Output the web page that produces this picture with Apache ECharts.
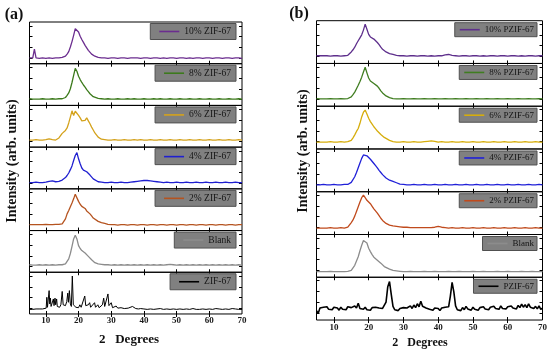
<!DOCTYPE html>
<html><head><meta charset="utf-8">
<script src="https://cdn.jsdelivr.net/npm/echarts@6/dist/echarts.min.js"></script>
<style>html,body{margin:0;padding:0;background:#fff}#c{width:550px;height:351px}</style>
</head><body><div id="c"></div>
<script>
// ---------- DATA ----------
const seriesNamesA = ['10% ZIF-67','8% ZIF-67','6% ZIF-67','4% ZIF-67','2% ZIF-67','Blank','ZIF-67'];
const seriesNamesB = ['10% PZIF-67','8% PZIF-67','6% PZIF-67','4% PZIF-67','2% PZIF-67','Blank','PZIF-67'];
const xTickLabels = [10,20,30,40,50,60,70];
const xTickMarks = [10,20,30,40,50,60];

const twoTheta = [5,6,6.5,7,8,9,10,11,12,13,14,
  15,15.5,16,16.5,17,17.5,18,18.5,19,19.5,20,20.5,21,21.5,22,22.5,23,23.5,24,24.5,25,
  26,27,28,29,30,31,32,33,34,35,36,37,38,39,40,41,42,43,44,45,46,47,48,49,50,
  51,52,53,54,55,56,57,58,59,60,61,62,63,64,65,66,67,68,69,70];

// panel (a)
const a10 = [14,14,35,14,13,14,13,14,13,14,14,
  15,16,18,23,29,40,53,68,84,88,76,66,58,51,44,38,32,28,23,20,18,
  15,14,14,13,14, 14,13,14,14,13, 14,14,14,13,14, 14,13,14,14,13, 14,13,14,14,13, 14,14,13,14,13, 14,14,13,14,14, 13,14,14,13,14, 14,13,14,14,13];
const a8 = [16,15,16,15,15,16,15,15,16,15,16,
  16,17,19,24,30,40,55,72,89,82,70,62,55,49,44,38,33,28,24,21,19,
  17,16,15,16,15, 15,16,15,15,16, 15,16,15,15,16, 15,15,16,15,16, 15,15,16,15,15, 16,15,15,16,15, 15,16,15,15,16, 15,15,16,15,15, 16,15,15,16,15];
const a6 = [17,17,17,18,17,17,18,20,18,17,22,
  33,37,40,46,58,72,87,76,86,87,76,70,63,60,64,70,63,56,48,41,34,
  24,19,18,17,17, 18,17,17,18,17, 17,18,17,18,17, 17,18,17,17,18, 17,17,18,17,17, 18,17,17,18,17, 17,18,17,17,18, 17,17,18,17,17, 18,17,17,18,17];
const a4 = [15,15,15,16,15,15,16,18,19,17,18,
  21,23,27,32,38,46,55,68,80,87,72,60,50,45,43,41,37,33,29,24,20,
  17,16,15,15,16, 15,15,16,15,15, 16,17,18,19,20, 20,19,18,17,16, 15,16,15,15,16, 15,15,16,15,15, 16,15,15,16,15, 15,16,15,15,16, 15,15,16,15,15];
const a2 = [14,14,14,14,14,14,15,14,14,15,15,
  16,19,28,40,48,57,66,76,87,84,70,63,58,55,53,47,43,40,35,30,27,
  22,19,17,15,14, 14,13,14,14,13, 14,14,13,14,14, 13,14,14,13,14, 14,13,14,14,13, 14,14,13,14,14, 13,14,14,13,14, 14,13,14,14,13, 14,14,13,14,14];
const aBlank = [18,17,18,17,18,17,18,17,18,17,18,
  18,19,20,23,32,45,62,80,89,80,64,57,52,49,46,42,38,34,30,26,23,
  20,19,18,18,17, 18,17,18,17,18, 17,18,17,18,17, 18,17,18,17,18, 17,18,19,18,17, 18,17,18,17,18, 17,18,17,18,17, 18,17,18,17,18, 17,18,17,18,17];
const zif67 = [[5,11],[6,11],[7,12],[7.6,14],[8.2,12],[9,12],[9.6,13],[10.1,14],[10.3,40],[10.5,16],[10.8,20],[11,56],[11.2,24],[11.4,38],[11.6,18],[12,16],[12.3,36],[12.5,20],[12.8,38],[13,22],[13.3,36],[13.5,18],[13.9,20],[14.2,16],[14.6,22],[15,54],[15.3,22],[15.6,18],[16,20],[16.4,30],[16.7,50],[16.9,28],[17.2,56],[17.5,24],[17.8,18],[18.1,91],[18.4,22],[18.8,18],[19.2,16],[19.6,18],[20,15],[20.4,22],[20.8,16],[21.2,18],[21.9,43],[22.2,20],[22.6,17],[23,22],[23.4,27],[23.7,16],[24.2,20],[24.9,27],[25.2,16],[25.9,22],[26.3,15],[26.8,17],[27.3,22],[27.7,38],[28,18],[28.5,16],[29,48],[29.3,20],[29.7,16],[30,27],[30.4,15],[31,17],[31.5,19],[32,14],[32.5,18],[33,15],[33.6,17],[34,13],[34.6,16],[35.2,14],[35.8,13],[36.5,18],[37,16],[37.5,13],[38.3,12],[39,13],[40,12],[41,11],[42,12],[43,11],[44,12],[45,13],[46,11],[47,12],[48,11],[49,12],[50,11],[51,12],[52,11],[53,12],[54,11],[55,13],[56,11],[57,11],[58,12],[59,11],[60,12],[61,11],[62,13],[63,12],[64,11],[65,12],[66,11],[67,13],[68,12],[69,11],[70,11]];

// panel (b)
const b10 = [18,18,17,18,18,17,18,18,17,18,19,
  27,32,38,46,53,60,67,78,92,80,68,62,59,57,54,49,44,38,33,30,27,
  23,21,19,18,18, 17,18,18,17,18, 18,17,18,17,18, 18,20,21,19,18, 17,18,18,17,18, 18,17,18,17,18, 18,17,18,18,17, 18,18,17,18,17, 18,18,17,18,18];
const b8 = [18,17,18,17,17,18,17,17,18,17,18,
  22,27,33,41,49,58,68,80,91,78,66,59,55,53,51,47,42,36,31,27,24,
  20,18,17,17,18, 17,17,18,17,17, 18,17,17,18,17, 17,18,17,17,18, 17,17,18,17,17, 18,17,17,18,17, 17,18,17,17,18, 17,17,18,17,17, 18,17,17,18,17];
const b6 = [16,16,17,16,16,17,16,16,17,16,17,
  20,26,33,41,48,60,75,86,91,82,72,64,58,52,47,42,38,34,30,27,25,
  20,17,16,16,17, 16,16,17,16,16, 17,18,19,18,16, 17,16,16,17,16, 16,17,16,16,17, 16,16,17,16,16, 17,16,16,17,16, 16,17,16,16,17, 16,16,17,16,16];
const b4 = [16,16,16,17,16,16,17,16,16,17,17,
  22,26,35,45,56,67,78,86,90,84,80,76,72,66,61,56,50,45,40,36,32,
  27,24,21,18,17, 16,16,17,16,16, 17,16,16,17,16, 16,17,16,16,17, 16,16,17,16,16, 17,16,16,17,16, 16,17,16,16,17, 16,16,17,16,16, 17,16,16,17,16];
const b2 = [15,15,15,15,15,16,15,15,16,15,17,
  28,34,43,54,65,76,86,92,86,80,76,72,66,60,56,50,44,38,33,29,26,
  22,20,19,18,17, 17,16,16,16,16, 16,16,16,17,19, 17,16,15,16,15, 15,16,15,15,16, 15,15,16,15,15, 16,15,15,16,15, 15,16,15,15,16, 15,15,16,15,15];
const bBlank = [13,13,13,13,13,14,13,13,13,13,14,
  16,20,28,38,48,62,75,86,89,80,68,60,53,47,44,40,37,33,29,25,22,
  19,16,15,14,13, 13,14,13,13,13, 14,13,13,14,13, 13,13,14,13,13, 14,13,13,13,14, 13,13,14,13,13, 13,14,13,13,14, 13,13,13,14,13, 13,14,13,13,13];
const pzif67 = [[5,22],[5.5,16],[6,28],[6.5,24],[7,30],[7.5,26],[8,31],[8.5,25],[9,29],[9.5,24],[10,30],[10.5,26],[11,28],[11.5,23],[12,30],[12.5,25],[13,29],[13.5,24],[14,31],[14.5,27],[15,29],[15.5,25],[16,33],[16.5,28],[17,39],[17.5,27],[18,31],[18.5,25],[19,30],[19.5,24],[20,28],[20.5,23],[21,29],[21.5,25],[22,30],[22.5,26],[23,28],[23.5,24],[24,27],[24.5,30],[25,42],[25.5,78],[26,90],[26.5,60],[27,32],[27.5,24],[28,28],[28.5,22],[29,27],[29.5,23],[30,29],[30.5,25],[31,28],[31.5,24],[32,33],[32.5,27],[33,35],[33.5,29],[34,38],[34.5,31],[35,44],[35.5,32],[36,36],[36.5,28],[37,31],[37.5,25],[38,29],[38.5,23],[39,28],[39.5,24],[40,27],[40.5,22],[41,28],[41.5,24],[42,30],[42.5,26],[43,31],[43.5,56],[44,88],[44.5,66],[45,33],[45.5,24],[46,28],[46.5,22],[47,29],[47.5,24],[48,32],[48.5,26],[49,28],[49.5,23],[50,30],[50.5,25],[51,27],[51.5,23],[52,29],[52.5,25],[53,31],[53.5,26],[54,28],[54.5,24],[55,30],[55.5,26],[56,32],[56.5,27],[57,29],[57.5,25],[58,33],[58.5,27],[59,30],[59.5,26],[60,31],[60.5,27],[61,33],[61.5,28],[62,30],[62.5,26],[63,34],[63.5,29],[64,37],[64.5,30],[65,36],[65.5,29],[66,38],[66.5,30],[67,34],[67.5,27],[68,32],[68.5,26],[69,33],[69.5,25],[70,28]];

// ---------- STYLE / LAYOUT ----------
const SERIF = "'Liberation Serif','DejaVu Serif',serif";
const zip = (xs, ys) => xs.map((x, i) => [x, ys[i]]);
const panels = [
  { names: seriesNamesA, data: [zip(twoTheta,a10),zip(twoTheta,a8),zip(twoTheta,a6),zip(twoTheta,a4),zip(twoTheta,a2),zip(twoTheta,aBlank),zif67],
    colors: ['#6b2d8f','#3c7a1c','#d4a21c','#1f1fd0','#b5531f','#8c8c8c','#000000'],
    widths: [1.3,1.3,1.3,1.3,1.3,1.3,1.0],
    left: 29.5, width: 212.5, top: 22, h: 41.71, yTicks: [14,39,65,91],
    legendRight: 314, legendDy: 1.5, labelMargin: 2, legPad:[2,5,2,9], fs: 9.5 },
  { names: seriesNamesB, data: [zip(twoTheta,b10),zip(twoTheta,b8),zip(twoTheta,b6),zip(twoTheta,b4),zip(twoTheta,b2),zip(twoTheta,bBlank),pzif67],
    colors: ['#5e2f8c','#3f7d20','#d6ad0c','#2020d8','#c04a1c','#8c8c8c','#000000'],
    widths: [1.3,1.3,1.3,1.3,1.3,1.3,1.6],
    left: 316.5, width: 226, top: 20.7, h: 42.76, yTicks: [17,42,67,92],
    legendRight: 13, legendDy: 2, labelMargin: 3.5, legPad:[1,3,1,5], fs: 9 }
];

const grid = [], xAxis = [], yAxis = [], series = [], legend = [];
panels.forEach(p => {
  for (let i = 0; i < 7; i++) {
    const g = grid.length;
    const top = p.top + i * p.h;
    grid.push({ left: p.left, top: top, width: p.width, height: p.h, show: true,
      borderColor: '#000', borderWidth: 1, backgroundColor: 'transparent' });
    const tick = { show: true, inside: true, length: 3, lineStyle: { color: '#000', width: 1 } };
    xAxis.push({ type: 'value', gridIndex: g, position: 'bottom', min: 5, max: 70,
      axisLine: { show: false }, splitLine: { show: false },
      axisTick: Object.assign({ customValues: xTickMarks }, tick),
      axisLabel: { show: i === 6, customValues: xTickLabels, margin: p.labelMargin,
        fontFamily: SERIF, fontWeight: 'bold', fontSize: 9, color: '#1a1a1a' } });
    xAxis.push({ type: 'value', gridIndex: g, position: 'top', min: 5, max: 70,
      axisLine: { show: false }, splitLine: { show: false }, axisLabel: { show: false },
      axisTick: Object.assign({ customValues: xTickMarks }, tick) });
    yAxis.push({ type: 'value', gridIndex: g, position: 'left', min: 0, max: 100,
      axisLine: { show: false }, splitLine: { show: false }, axisLabel: { show: false },
      axisTick: Object.assign({ customValues: p.yTicks }, tick) });
    yAxis.push({ type: 'value', gridIndex: g, position: 'right', min: 0, max: 100,
      axisLine: { show: false }, splitLine: { show: false }, axisLabel: { show: false },
      axisTick: Object.assign({ customValues: p.yTicks }, tick) });
    series.push({ type: 'line', name: p.names[i], xAxisIndex: 2 * g, yAxisIndex: 2 * g,
      data: p.data[i], symbol: 'none', showSymbol: false, silent: true,
      lineStyle: { color: p.colors[i], width: p.widths[i] }, itemStyle: { color: p.colors[i] } });
    legend.push({ data: [p.names[i]], right: p.legendRight, top: top + p.legendDy,
      selectedMode: false, backgroundColor: '#808080', borderColor: '#505050', borderWidth: 1,
      padding: p.legPad, icon: 'rect', itemWidth: 20, itemHeight: 1.6, itemGap: 0,
      textStyle: { fontFamily: SERIF, fontSize: p.fs, color: '#151515', lineHeight: 12 } });
  }
});

const txt = (x, y, s, size, extra) => Object.assign({ type: 'text', x: x, y: y,
  style: { text: s, font: 'bold ' + size + 'px ' + SERIF, fill: '#111', textAlign: 'center', textVerticalAlign: 'middle' } }, extra || {});

const chart = echarts.init(document.getElementById('c'), null, { renderer: 'canvas' });
chart.setOption({
  animation: false,
  grid, xAxis, yAxis, series, legend,
  graphic: [
    txt(14, 15, '(a)', 16),
    txt(299, 14, '(b)', 16),
    Object.assign(txt(12.5, 161, 'Intensity (arb. units)', 14), { rotation: Math.PI / 2 }),
    Object.assign(txt(303, 151, 'Intensity (arb. units)', 14), { rotation: Math.PI / 2 }),
    txt(129, 340, '2   Degrees', 13),
    txt(420, 343, '2   Degrees', 12)
  ]
});
</script></body></html>
